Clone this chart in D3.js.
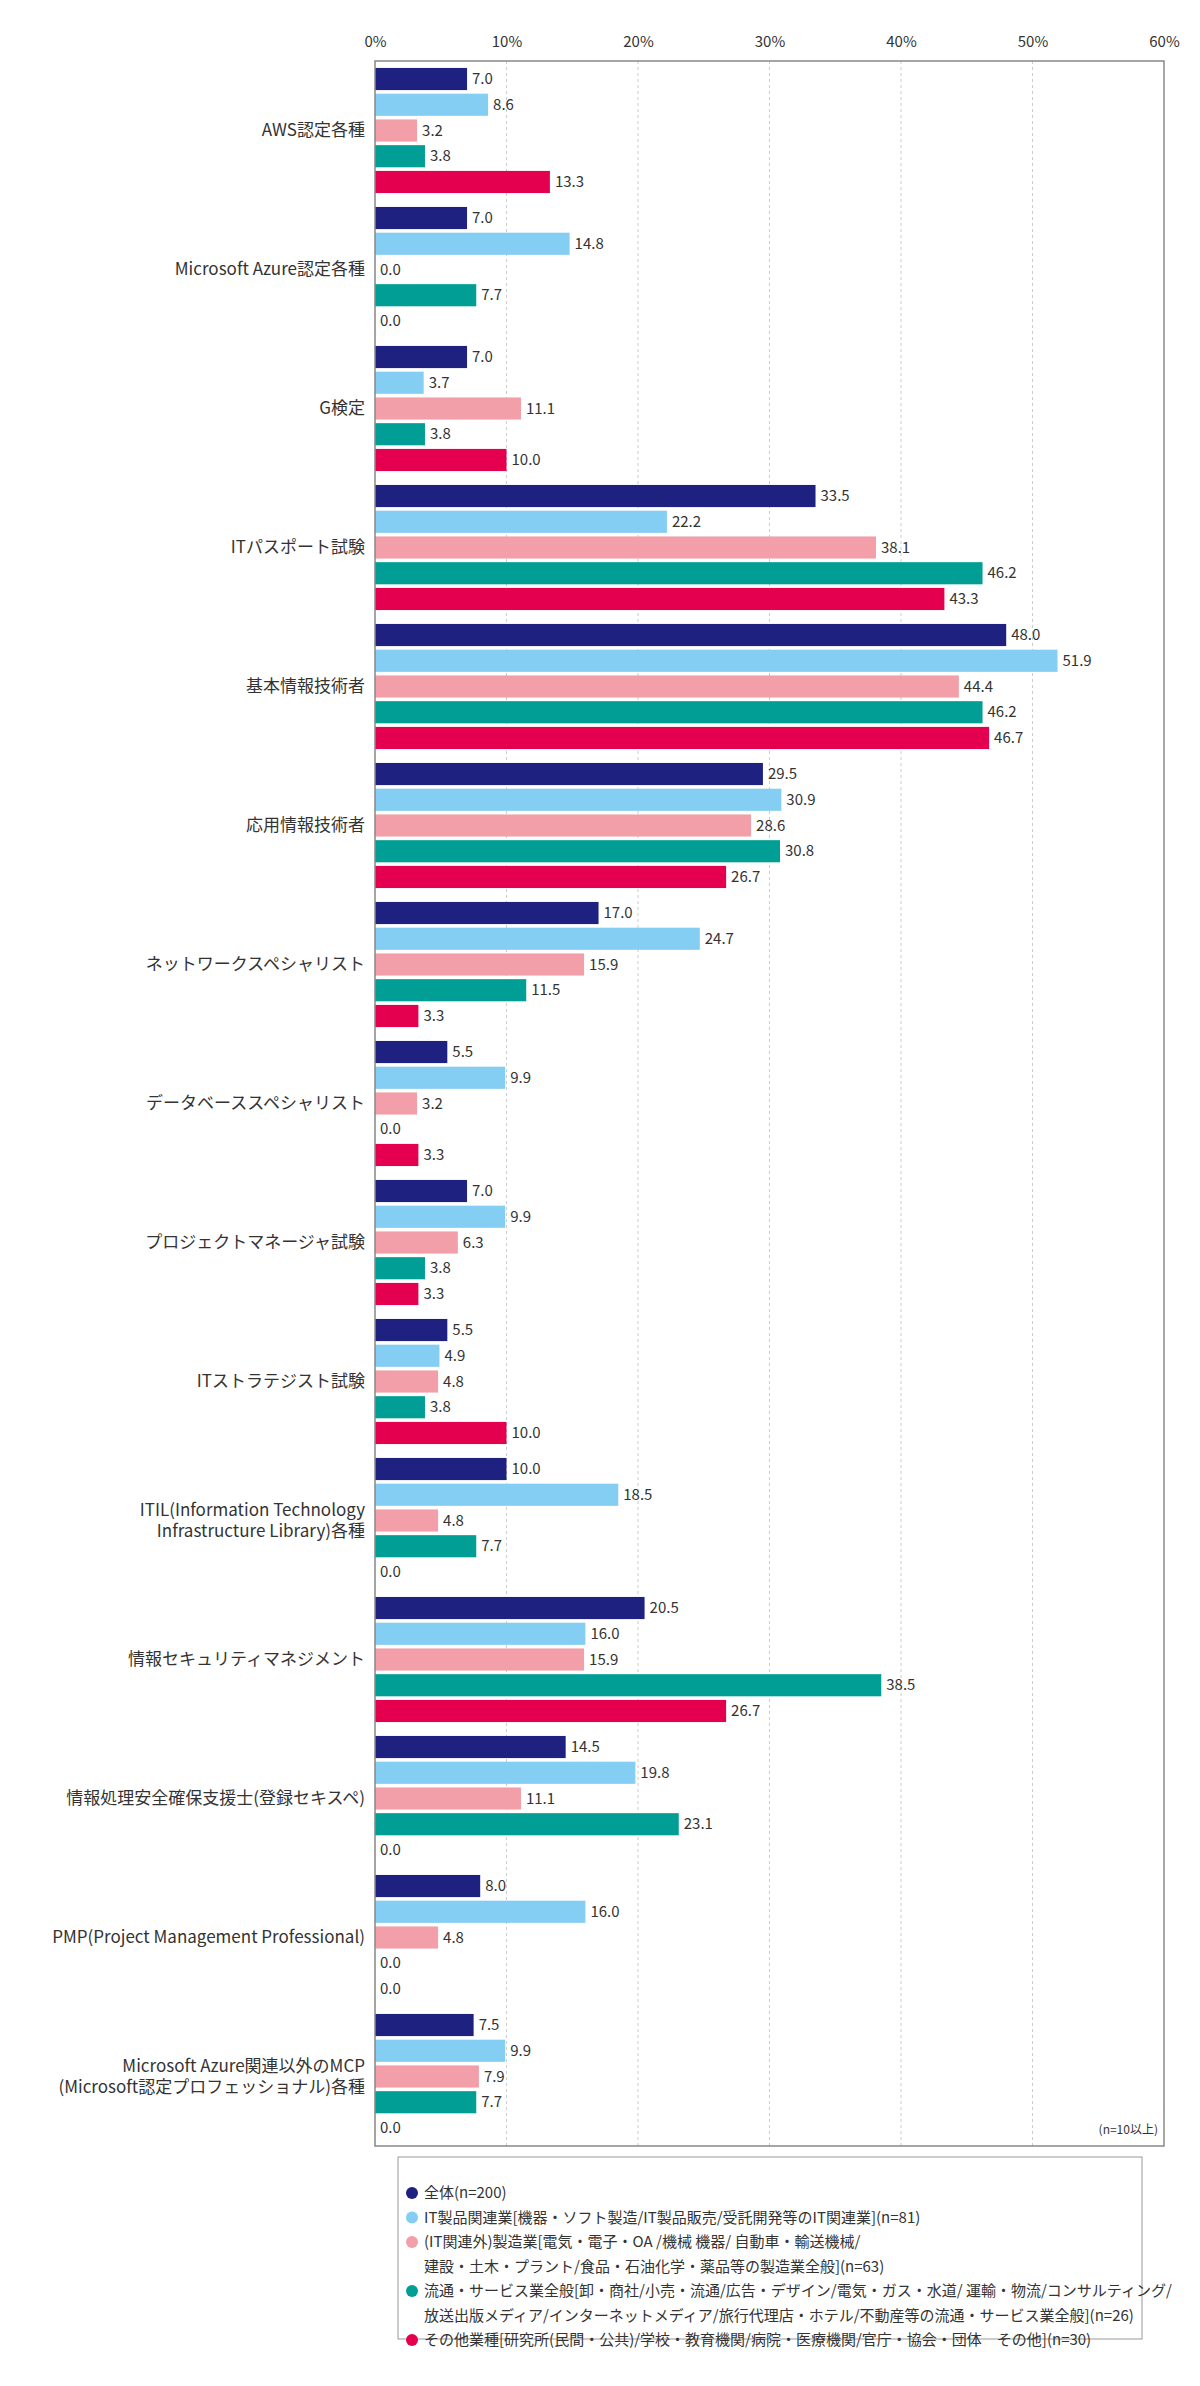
<!DOCTYPE html>
<html><head><meta charset="utf-8">
<script src="https://cdn.jsdelivr.net/npm/d3@7"></script>
<style>body{margin:0;background:#fff;font-family:"Noto Sans CJK JP","Noto Sans",sans-serif;}</style>
</head><body><svg id="chart"></svg>
<script>
const categories = [
  ["AWS認定各種"], ["Microsoft Azure認定各種"], ["G検定"], ["ITパスポート試験"],
  ["基本情報技術者"], ["応用情報技術者"], ["ネットワークスペシャリスト"],
  ["データベーススペシャリスト"], ["プロジェクトマネージャ試験"], ["ITストラテジスト試験"],
  ["ITIL(Information Technology", "Infrastructure Library)各種"],
  ["情報セキュリティマネジメント"], ["情報処理安全確保支援士(登録セキスペ)"],
  ["PMP(Project Management Professional)"],
  ["Microsoft Azure関連以外のMCP", "(Microsoft認定プロフェッショナル)各種"]
];
const seriesNames = [
  ["全体(n=200)"],
  ["IT製品関連業[機器・ソフト製造/IT製品販売/受託開発等のIT関連業](n=81)"],
  ["(IT関連外)製造業[電気・電子・OA /機械 機器/ 自動車・輸送機械/", "建設・土木・プラント/食品・石油化学・薬品等の製造業全般](n=63)"],
  ["流通・サービス業全般[卸・商社/小売・流通/広告・デザイン/電気・ガス・水道/ 運輸・物流/コンサルティング/", "放送出版メディア/インターネットメディア/旅行代理店・ホテル/不動産等の流通・サービス業全般](n=26)"],
  ["その他業種[研究所(民間・公共)/学校・教育機関/病院・医療機関/官庁・協会・団体　その他](n=30)"]
];
const colors = ["#1f2181", "#84cdf3", "#f29fa9", "#009e95", "#e4004e"];
const all     = [7.0, 7.0, 7.0, 33.5, 48.0, 29.5, 17.0, 5.5, 7.0, 5.5, 10.0, 20.5, 14.5, 8.0, 7.5];
const itProd  = [8.6, 14.8, 3.7, 22.2, 51.9, 30.9, 24.7, 9.9, 9.9, 4.9, 18.5, 16.0, 19.8, 16.0, 9.9];
const mfg     = [3.2, 0.0, 11.1, 38.1, 44.4, 28.6, 15.9, 3.2, 6.3, 4.8, 4.8, 15.9, 11.1, 4.8, 7.9];
const service = [3.8, 7.7, 3.8, 46.2, 46.2, 30.8, 11.5, 0.0, 3.8, 3.8, 7.7, 38.5, 23.1, 0.0, 7.7];
const other   = [13.3, 0.0, 10.0, 43.3, 46.7, 26.7, 3.3, 3.3, 3.3, 10.0, 0.0, 26.7, 0.0, 0.0, 0.0];
const series = [all, itProd, mfg, service, other];
const ticks = [0, 10, 20, 30, 40, 50, 60];

const W = 1200, H = 2386;
const mLeft = 375, mRight = 1164, mTop = 61, mBottom = 2146;
const svg = d3.select("#chart").attr("width", W).attr("height", H);

const x = d3.scaleLinear().domain([0, 60]).range([mLeft, mRight]);
const y0 = d3.scaleBand().domain(d3.range(categories.length)).range([mTop, mBottom]).paddingInner(0.1).paddingOuter(0.05);
const y1 = d3.scaleBand().domain(d3.range(series.length)).range([0, y0.bandwidth()]).paddingInner(0.14);

// grid
svg.append("g").selectAll("line").data(ticks.slice(1, -1)).join("line")
  .attr("x1", d => x(d)).attr("x2", d => x(d)).attr("y1", mTop).attr("y2", mBottom)
  .attr("stroke", "#cccccc").attr("stroke-dasharray", "3,3");

// axis labels
const ax = svg.append("g").attr("transform", `translate(0,${mTop})`)
  .call(d3.axisTop(x).tickValues(ticks).tickFormat(d => d + "%").tickSize(0).tickPadding(14));
ax.select(".domain").remove();
ax.selectAll("text").attr("font-size", 15).attr("fill", "#333").attr("font-family", "Noto Sans CJK JP");

const g = svg.append("g").selectAll("g").data(categories).join("g")
  .attr("transform", (d, i) => `translate(0,${y0(i)})`);

g.each(function(cat, i) {
  const gg = d3.select(this);
  series.forEach((s, j) => {
    const v = s[i];
    gg.append("rect").attr("x", x(0)).attr("y", y1(j))
      .attr("width", x(v) - x(0)).attr("height", y1.bandwidth()).attr("fill", colors[j]);
    gg.append("text").attr("x", x(v) + 5).attr("y", y1(j) + y1.bandwidth() / 2)
      .attr("dy", "0.35em").attr("font-size", 15).attr("fill", "#333").text(v.toFixed(1));
  });
  const t = gg.append("text").attr("text-anchor", "end").attr("x", mLeft - 10)
    .attr("font-size", 17).attr("fill", "#333");
  const mid = y0.bandwidth() / 2;
  cat.forEach((line, k) => {
    t.append("tspan").attr("x", mLeft - 10)
      .attr("y", mid + (k - (cat.length - 1) / 2) * 21).attr("dy", "0.35em").text(line);
  });
});

// frame
svg.append("rect").attr("x", mLeft).attr("y", mTop).attr("width", mRight - mLeft).attr("height", mBottom - mTop)
  .attr("fill", "none").attr("stroke", "#888").attr("stroke-width", 1.5);
svg.append("text").attr("x", mRight - 6).attr("y", mBottom - 12).attr("text-anchor", "end")
  .attr("font-size", 12).attr("fill", "#333").text("(n=10以上)");

// legend
const lx = 398, ly = 2157, lh = 24.5;
svg.append("rect").attr("x", lx).attr("y", ly).attr("width", 744).attr("height", 182)
  .attr("fill", "none").attr("stroke", "#999");
let row = 0;
seriesNames.forEach((lines, j) => {
  const cy = ly + 36 + row * lh;
  svg.append("circle").attr("cx", lx + 14).attr("cy", cy).attr("r", 6).attr("fill", colors[j]);
  lines.forEach((ln, k) => {
    svg.append("text").attr("x", lx + 26).attr("y", cy + k * lh).attr("dy", "0.35em")
      .attr("font-size", 15).attr("fill", "#333").text(ln);
  });
  row += lines.length;
});
</script></body></html>
